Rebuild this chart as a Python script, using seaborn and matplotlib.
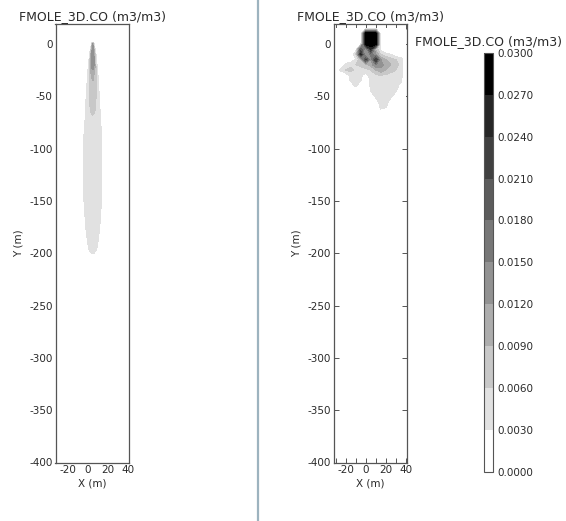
import numpy as np
import matplotlib
matplotlib.use("Agg")
import matplotlib.pyplot as plt
import seaborn as sns
from matplotlib.colors import ListedColormap, BoundaryNorm
from matplotlib.lines import Line2D

# ---------------- data ----------------
title_text = "FMOLE_3D.CO (m3/m3)"
levels = [0.000, 0.003, 0.006, 0.009, 0.012, 0.015, 0.018, 0.021, 0.024, 0.027, 0.030]
level_labels = ["0.0000", "0.0030", "0.0060", "0.0090", "0.0120", "0.0150",
                "0.0180", "0.0210", "0.0240", "0.0270", "0.0300"]
x_ticks = [-20, 0, 20, 40]
x_minor = [-30, -10, 10, 30]
y_ticks = [0, -50, -100, -150, -200, -250, -300, -350, -400]

# left panel: plume read along its axis (station y, centre value x1e-3, lateral spread m)
plume_xc = 5.0
plume_y = [2, 0, -10, -20, -30, -45, -60, -70, -90, -120, -150, -175, -195, -205]
plume_peak = [0, 12, 15, 14, 9.5, 8, 6.8, 5.8, 5.2, 5.0, 4.8, 4.4, 3.6, 2.5]
plume_sigma = [0.5, 0.8, 1.8, 2.4, 3.4, 4.4, 5.5, 6.5, 8.5, 9.0, 9.0, 8.0, 7.0, 6.0]

# right panel: concentration (x1e-3) on a coarse grid
grid_x = [-30, -25, -20, -15, -10, -5, 0, 5, 10, 15, 20, 25, 30, 35, 40]
grid_y = [15, 10, 5, 0, -5, -10, -15, -20, -25, -30, -35, -40, -45, -50, -55, -60, -65, -70]
grid_c = [
    [0, 0, 0, 0, 0, 0, 0, 0, 0, 0, 0, 0, 0, 0, 0],
    [0, 0, 0, 0, 0, 0, 30, 30, 30, 0, 0, 0, 0, 0, 0],
    [0, 0, 0, 0, 0, 0, 30, 30, 30, 0, 0, 0, 0, 0, 0],
    [0, 0, 0, 0, 0, 1, 30, 30, 30, 1, 0, 0, 0, 0, 0],
    [0, 0, 0, 0, 1, 20, 12, 24, 8, 2, 0, 0, 0, 0, 0],
    [0, 0, 0, 0, 5, 25, 10, 16, 12, 6, 4, 3, 1, 0, 0],
    [0, 0, 0, 1, 3, 8, 22, 12, 24, 12, 9, 7, 6, 4.5, 0],
    [0, 0, 4, 5, 6, 7, 8, 10, 15, 13, 11, 9, 7, 5, 0],
    [0, 3.5, 6, 7, 5, 4, 5, 6, 9, 11, 9, 7, 6, 5, 0],
    [0, 0, 1, 4, 4.5, 3.5, 2, 4, 5.5, 6, 5.5, 5, 4.5, 4, 0],
    [0, 0, 0, 3.5, 4, 3.2, 1, 3.5, 4.5, 5, 4.5, 4, 4, 3.5, 0],
    [0, 0, 0, 1, 3.5, 1, 0.5, 3.5, 4, 4.5, 4.5, 4, 4, 2, 0],
    [0, 0, 0, 0, 0, 0, 0, 3.2, 4, 4.5, 4.5, 4, 3.5, 0, 0],
    [0, 0, 0, 0, 0, 0, 0, 1, 3.5, 4, 4, 3.5, 1, 0, 0],
    [0, 0, 0, 0, 0, 0, 0, 0, 2, 4, 4, 2, 0, 0, 0],
    [0, 0, 0, 0, 0, 0, 0, 0, 0, 3.8, 3.5, 0, 0, 0, 0],
    [0, 0, 0, 0, 0, 0, 0, 0, 0, 2, 1, 0, 0, 0, 0],
    [0, 0, 0, 0, 0, 0, 0, 0, 0, 0, 0, 0, 0, 0, 0],
]

# ---------------- style ----------------
sns.set_theme(style="ticks")
plt.rcParams["font.family"] = ["DejaVu Sans"]
plt.rcParams["axes.unicode_minus"] = False
txt = "#2a2a2a"
edge = "#555555"

bin_colors = ["#ffffff", "#e1e1e1", "#c8c8c8", "#adadad", "#929292",
              "#777777", "#5c5c5c", "#404040", "#262626", "#000000"]
cmap = ListedColormap(bin_colors)
norm = BoundaryNorm(levels, cmap.N)

W, H = 566, 521
fig = plt.figure(figsize=(W / 100, H / 100), dpi=100)


def px_axes(l, t, r, b):
    return fig.add_axes([l / W, 1 - b / H, (r - l) / W, (b - t) / H])


ax_l = px_axes(55.5, 24, 129, 462.5)
ax_r = px_axes(333.5, 24, 407, 462.5)
cax = px_axes(484, 53, 493, 471.5)

# left field
gx = np.arange(-32, 42.01, 0.25)
gy = np.arange(20, -401, -0.5)
X, Y = np.meshgrid(gx, gy)
peak = np.interp(Y, plume_y[::-1], plume_peak[::-1])
sig = np.interp(Y, plume_y[::-1], plume_sigma[::-1])
C_left = 1e-3 * peak * np.exp(-0.5 * ((X - plume_xc) / sig) ** 2)
ax_l.contourf(X, Y, C_left, levels=levels, cmap=cmap, norm=norm)

# right field
C_right = 1e-3 * np.array(grid_c)
cs = ax_r.contourf(np.array(grid_x), np.array(grid_y), C_right, levels=levels,
                   cmap=cmap, norm=norm)

for ax in (ax_l, ax_r):
    ax.set_xlim(-32, 41)
    ax.set_ylim(-400, 19)
    ax.set_xticks(x_ticks)
    ax.set_xticks(x_minor, minor=True)
    ax.set_yticks(y_ticks)
    ax.set_xticklabels([str(v) for v in x_ticks])
    ax.set_yticklabels([str(v) for v in y_ticks])
    ax.tick_params(which="both", direction="in", top=True, right=True,
                   length=3.5, width=0.7, color=edge, labelsize=7.5,
                   labelcolor=txt, pad=2)
    for s in ax.spines.values():
        s.set_color(edge)
        s.set_linewidth(0.9)
    ax.set_xlabel("X (m)", fontsize=7.5, color=txt, labelpad=2)
    ax.set_ylabel("Y (m)", fontsize=7.5, color=txt, labelpad=4)
    ax.set_title(title_text, fontsize=9, color=txt, pad=3)
    ax.set_facecolor("white")

cb = fig.colorbar(cs, cax=cax, ticks=levels)
cb.ax.set_yticklabels(level_labels)
cb.ax.tick_params(direction="in", length=2.5, width=0.6, color=edge,
                  labelsize=7.5, labelcolor=txt, pad=3)
cb.outline.set_edgecolor(edge)
cb.outline.set_linewidth(0.8)
cax.set_title(title_text, fontsize=9, color=txt, pad=6)

fig.add_artist(Line2D([257.7 / W, 257.7 / W], [0, 1], color="#9db3bf", lw=1.6))

fig.savefig("out.png", dpi=100, facecolor="white")
